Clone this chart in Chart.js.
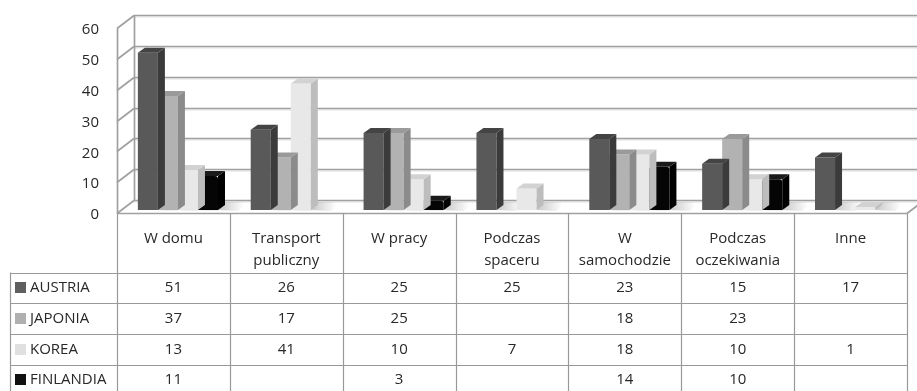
<!DOCTYPE html>
<html>
<head>
<meta charset="utf-8">
<script src="https://cdn.jsdelivr.net/npm/chart.js@4.4.0/dist/chart.umd.min.js"></script>
<style>
  html, body { margin: 0; padding: 0; background: #fff; }
</style>
</head>
<body>
<canvas id="chart" width="917" height="391"></canvas>
<script>
"use strict"

// categories (header lines of the data table)
const categories = [["W domu"], ["Transport", "publiczny"], ["W pracy"], ["Podczas", "spaceru"], ["W", "samochodzie"], ["Podczas", "oczekiwania"], ["Inne"]]
const seriesNames = ["AUSTRIA", "JAPONIA", "KOREA", "FINLANDIA"]
const austria = [51, 26, 25, 25, 23, 15, 17]
const japonia = [37, 17, 25, null, 18, 23, null]
const korea = [13, 41, 10, 7, 18, 10, 1]
const finlandia = [11, null, 3, null, 14, 10, null]
const yTicks = [0, 10, 20, 30, 40, 50, 60]

// colours: front, side, top
const palette = [
    { front: '#595959', side: '#3b3b3b', top: '#444444', key: '#5f5f5f' },
    { front: '#b2b2b2', side: '#8b8b8b', top: '#9a9a9a', key: '#b0b0b0' },
    { front: '#e8e8e8', side: '#bdbdbd', top: '#d2d2d2', key: '#e0e0e0' },
    { front: '#050505', side: '#000000', top: '#1a1a1a', key: '#111111' }
]

// fake 3d geometry
const WALL_DX = 17, WALL_DY = -13   // back wall offset
const BAR_DX = 4.5, BAR_DY = -3     // bars sit a bit behind the front edge
const DEPTH_DX = 7, DEPTH_DY = -5   // bar depth
const GRID = '#a0a0a0'
const TEXT = '#282828'
const FONT = '"Open Sans", sans-serif'

const ctx = document.getElementById('chart').getContext('2d')

// marble-ish look for KOREA front face
function koreaFill(left, right) {
    const g = ctx.createLinearGradient(left, 0, right, 0)
    g.addColorStop(0, '#f1f1f1')
    g.addColorStop(0.4, '#d9d9d9')
    g.addColorStop(0.7, '#ececec')
    g.addColorStop(1, '#e0e0e0')
    return g
}

function line(x1, y1, x2, y2) {
    ctx.beginPath()
    ctx.moveTo(x1, y1)
    ctx.lineTo(x2, y2)
    ctx.stroke()
}

function poly(pts, fill) {
    ctx.beginPath()
    ctx.moveTo(pts[0][0], pts[0][1])
    for (let i = 1; i < pts.length; i++) ctx.lineTo(pts[i][0], pts[i][1])
    ctx.closePath()
    ctx.fillStyle = fill
    ctx.fill()
}

const depth3d = {
    id: 'depth3d',
    beforeDatasetsDraw(chart) {
        const y = chart.scales.y
        const area = chart.chartArea
        const L = area.left, R = area.right
        ctx.save()
        ctx.lineCap = 'butt'
        // back wall grid + left wall diagonals
        yTicks.forEach(v => {
            const py = Math.round(y.getPixelForValue(v)) + 0.5
            ctx.strokeStyle = '#e0e0e0'
            ctx.lineWidth = 1
            line(L + WALL_DX, py + WALL_DY + 1.5, chart.width, py + WALL_DY + 1.5)
            ctx.strokeStyle = GRID
            ctx.lineWidth = 1.7
            line(L + WALL_DX, py + WALL_DY, chart.width, py + WALL_DY)
            line(L, py, L + WALL_DX, py + WALL_DY)
        })
        const top = Math.round(y.getPixelForValue(60)) + 0.5
        const bottom = Math.round(y.getPixelForValue(0)) + 0.5
        ctx.strokeStyle = GRID
        ctx.lineWidth = 1.7
        line(L + 0.5, top, L + 0.5, bottom)
        line(L + WALL_DX + 0.5, top + WALL_DY, L + WALL_DX + 0.5, bottom + WALL_DY)
        // floor
        line(L, bottom, R, bottom)
        line(R, bottom, R + WALL_DX, bottom + WALL_DY)
        ctx.restore()

        // shift bars behind the front edge
        ctx.save()
        ctx.translate(BAR_DX, BAR_DY)

        // soft floor shadows to the right of the bars
        chart.data.datasets.forEach((ds, d) => {
            chart.getDatasetMeta(d).data.forEach((bar, i) => {
                if (ds.data[i] === null) return
                const right = bar.x + bar.width / 2
                const b = bar.base
                const g = ctx.createLinearGradient(right, 0, right + 26, 0)
                g.addColorStop(0, 'rgba(0,0,0,0.22)')
                g.addColorStop(1, 'rgba(0,0,0,0)')
                poly([[right, b], [right + DEPTH_DX, b + DEPTH_DY - 3], [right + DEPTH_DX + 24, b + DEPTH_DY - 3], [right + 20, b + 1]], g)
            })
        })
    },
    afterDatasetDraw(chart, args) {
        const c = palette[args.index]
        args.meta.data.forEach((bar, i) => {
            const v = chart.data.datasets[args.index].data[i]
            if (v === null || v === undefined) return
            const left = bar.x - bar.width / 2
            const right = bar.x + bar.width / 2
            const t = bar.y, b = bar.base
            poly([[right, t], [right + DEPTH_DX, t + DEPTH_DY], [right + DEPTH_DX, b + DEPTH_DY], [right, b]], c.side)
            poly([[left, t], [left + DEPTH_DX, t + DEPTH_DY], [right + DEPTH_DX, t + DEPTH_DY], [right, t]], c.top)
        })
    },
    afterDatasetsDraw() {
        ctx.restore()
    },
    afterDraw(chart) {
        // data table under the plot
        const x = chart.scales.x
        const area = chart.chartArea
        const L = area.left, R = area.right
        const colW = (R - L) / categories.length
        const top = Math.round(chart.scales.y.getPixelForValue(0)) + 0.5
        const headerBottom = 272.5
        const rowH = 30.7
        const tableLeft = 10.5
        const series = [austria, japonia, korea, finlandia]

        ctx.save()
        ctx.strokeStyle = '#999999'
        ctx.lineWidth = 1.2
        for (let i = 0; i <= categories.length; i++) {
            const px = Math.round(L + i * colW) + 0.5
            line(px, top, px, chart.height)
        }
        line(tableLeft, headerBottom, tableLeft, chart.height)
        for (let r = 0; r < series.length; r++) {
            const py = Math.round(headerBottom + r * rowH) + 0.5
            line(tableLeft, py, R, py)
        }

        ctx.fillStyle = TEXT
        ctx.font = '15px ' + FONT
        ctx.textAlign = 'center'
        ctx.textBaseline = 'middle'
        categories.forEach((lines, i) => {
            const cx = x.getPixelForValue(i)
            lines.forEach((txt, k) => ctx.fillText(txt, cx, 239 + k * 22))
        })
        series.forEach((vals, r) => {
            const cy = headerBottom + r * rowH + rowH / 2
            vals.forEach((v, i) => {
                if (v === null) return
                ctx.fillText(String(v), x.getPixelForValue(i), cy)
            })
            ctx.fillStyle = palette[r].key
            ctx.fillRect(15, Math.round(cy - 5.5), 11, 11)
            ctx.fillStyle = TEXT
            ctx.textAlign = 'left'
            ctx.fillText(seriesNames[r], 30, cy)
            ctx.textAlign = 'center'
        })
        ctx.restore()
    }
}

const datasets = [austria, japonia, korea, finlandia].map((vals, i) => ({
    label: seriesNames[i],
    data: vals,
    backgroundColor: palette[i].front,
    borderWidth: 0,
    borderRadius: i === 3 ? 3 : 0,
    borderSkipped: 'bottom',
    categoryPercentage: 0.71,
    barPercentage: 1.0
}))

// per-bar gradient for korea so every bar has the same shading
datasets[2].backgroundColor = (c) => {
    const el = c.chart.getDatasetMeta(2).data[c.dataIndex]
    if (!el || !isFinite(el.x)) return palette[2].front
    return koreaFill(el.x - el.width / 2, el.x + el.width / 2)
}

new Chart(ctx, {
    type: 'bar',
    data: {
        labels: categories.map(c => c.join(' ')),
        datasets: datasets
    },
    options: {
        responsive: false,
        animation: false,
        devicePixelRatio: 1,
        clip: false,
        layout: { padding: { left: 0, right: 10, top: 28, bottom: 178 } },
        plugins: {
            legend: { display: false },
            tooltip: { enabled: false }
        },
        scales: {
            x: { display: false, offset: true },
            y: {
                min: 0,
                max: 60,
                ticks: {
                    stepSize: 10,
                    padding: 18,
                    labelOffset: 2,
                    color: TEXT,
                    font: { family: FONT, size: 15 }
                },
                grid: { display: false, drawTicks: false },
                border: { display: false },
                afterFit(scale) { scale.width = 117 }
            }
        }
    },
    plugins: [depth3d]
})
</script>
</body>
</html>
